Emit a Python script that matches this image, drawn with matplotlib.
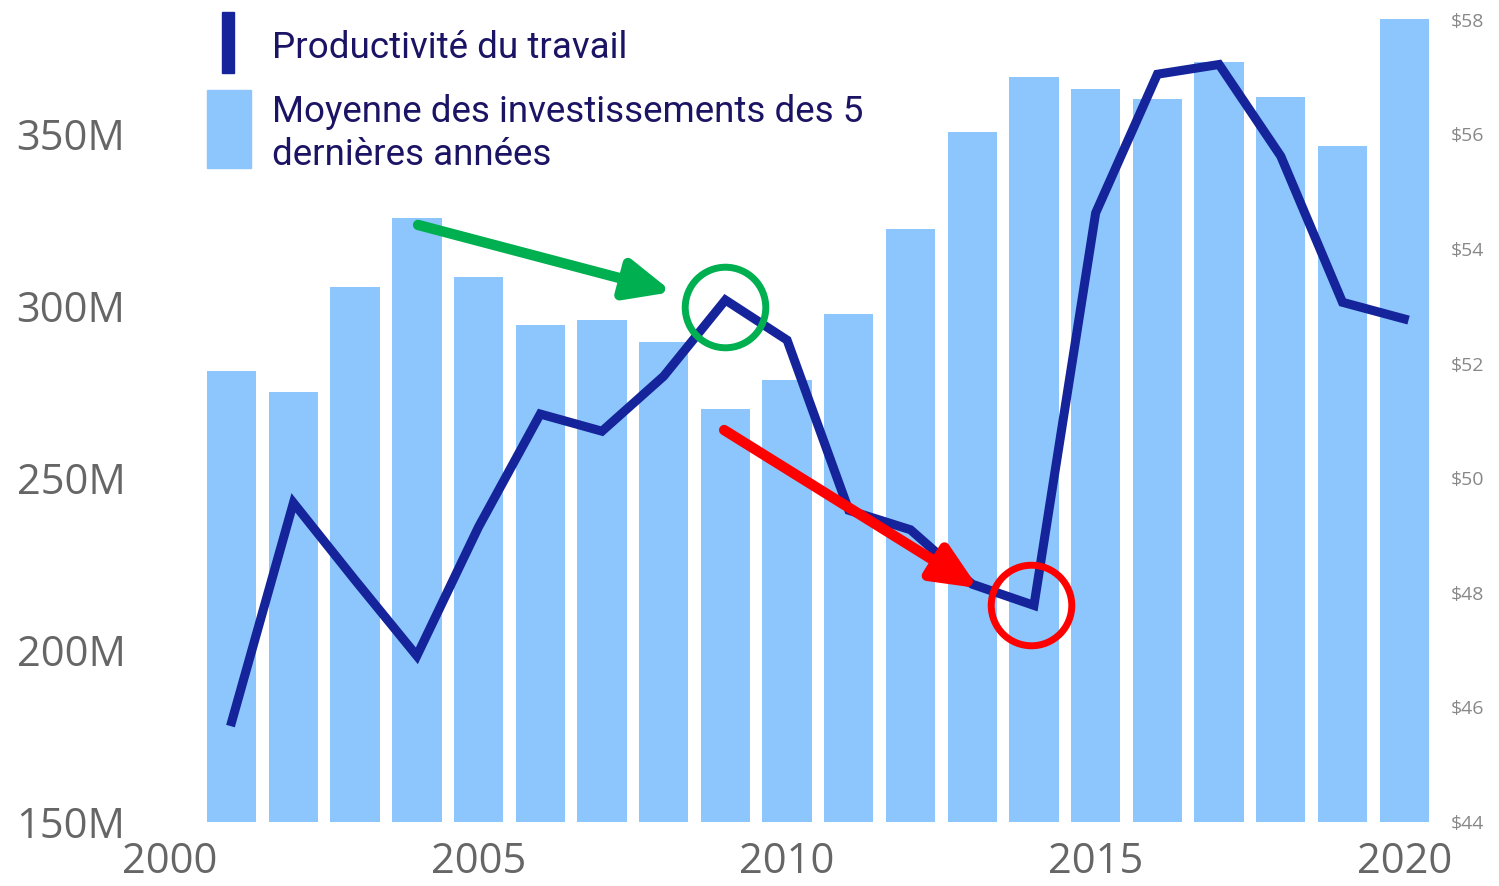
import matplotlib
matplotlib.use("Agg")
import matplotlib.pyplot as plt
from matplotlib.patches import Rectangle

# data
years = [2001, 2002, 2003, 2004, 2005, 2006, 2007, 2008, 2009, 2010,
         2011, 2012, 2013, 2014, 2015, 2016, 2017, 2018, 2019, 2020]
invest_avg = [281.1, 275.0, 305.5, 325.6, 308.4, 294.5, 295.9, 289.5, 270.0, 278.5,
              297.7, 322.4, 350.6, 366.6, 363.0, 360.2, 370.9, 360.8, 346.5, 383.4]  # millions
productivity = [45.75, 49.57, 48.22, 46.9, 49.15, 51.12, 50.82, 51.78, 53.11, 52.41,
                49.44, 49.1, 48.15, 47.78, 54.63, 57.05, 57.22, 55.62, 53.07, 52.78]  # $

left_ticks = [150, 200, 250, 300, 350]
right_ticks = [44, 46, 48, 50, 52, 54, 56, 58]
x_ticks = [2000, 2005, 2010, 2015, 2020]

bar_color = "#8CC6FC"
line_color = "#15249A"
text_color = "#1B1464"
tick_color = "#666666"

fig = plt.figure(figsize=(14.99, 8.86), dpi=100)
W, H = 1499, 886
ax = fig.add_axes([170 / W, (H - 822) / H, (1440 - 170) / W, (822 - 10) / H])
ax2 = ax.twinx()

ax.bar(years, invest_avg, width=0.8, color=bar_color, zorder=1)
ax.set_xlim(2000, 2020.58)
ax.set_ylim(150, 150 + (822 - 10) / 3.44)
ax.set_yticks(left_ticks)
ax.set_yticklabels([f"{v}M" for v in left_ticks])
ax.set_xticks(x_ticks)

ax2.plot(years, productivity, color=line_color, lw=6.5, solid_joinstyle="miter", zorder=3)
ax2.set_ylim(44, 44 + (822 - 10) / 57.3)
ax2.set_yticks(right_ticks)
ax2.set_yticklabels([f"${v}" for v in right_ticks])

for a in (ax, ax2):
    for s in a.spines.values():
        s.set_visible(False)
ax.tick_params(axis="both", length=0, labelsize=30, labelcolor=tick_color)
ax.tick_params(axis="y", pad=32)
ax.tick_params(axis="x", pad=14)
ax2.tick_params(axis="y", length=0, labelsize=14, labelcolor="#888888", pad=8)
for lab in ax.get_xticklabels() + ax.get_yticklabels() + ax2.get_yticklabels():
    lab.set_fontfamily("Open Sans")

# annotations: peak 2009 (green), trough 2014 (red)
peak, low = 8, 13
arrow_style = "-|>,head_length=0.45,head_width=0.2"
ax2.plot(years[peak], productivity[peak] - 0.12, "o", ms=58, mfc="none", mec="#00B050", mew=5, zorder=4)
ax2.annotate("", xy=(2008.14, 53.25), xytext=(2004.02, 54.42),
             arrowprops=dict(arrowstyle=arrow_style, lw=7.5,
                             color="#00B050", mutation_scale=60, shrinkA=0, shrinkB=0), zorder=4)
ax2.plot(years[low] - 0.05, productivity[low], "o", ms=58, mfc="none", mec="#FF0000", mew=5, zorder=4)
ax2.annotate("", xy=(2013.1, 48.08), xytext=(2008.98, 50.84),
             arrowprops=dict(arrowstyle=arrow_style, lw=7.5,
                             color="#FF0000", mutation_scale=60, shrinkA=0, shrinkB=0), zorder=4)

# legend drawn by hand in pixel space
fig.patches.append(Rectangle((222 / W, (H - 73) / H), 12 / W, 61 / H,
                             transform=fig.transFigure, color=line_color))
fig.patches.append(Rectangle((207 / W, (H - 168) / H), 44 / W, 78 / H,
                             transform=fig.transFigure, color=bar_color))
fig.text(272 / W, (H - 58) / H, "Productivité du travail", fontsize=26.5,
         family="Roboto", color=text_color, va="baseline")
fig.text(272 / W, (H - 122) / H, "Moyenne des investissements des 5", fontsize=26.5,
         family="Roboto", color=text_color, va="baseline")
fig.text(272 / W, (H - 165) / H, "dernières années", fontsize=26.5,
         family="Roboto", color=text_color, va="baseline")

fig.savefig("out.png", dpi=100)
